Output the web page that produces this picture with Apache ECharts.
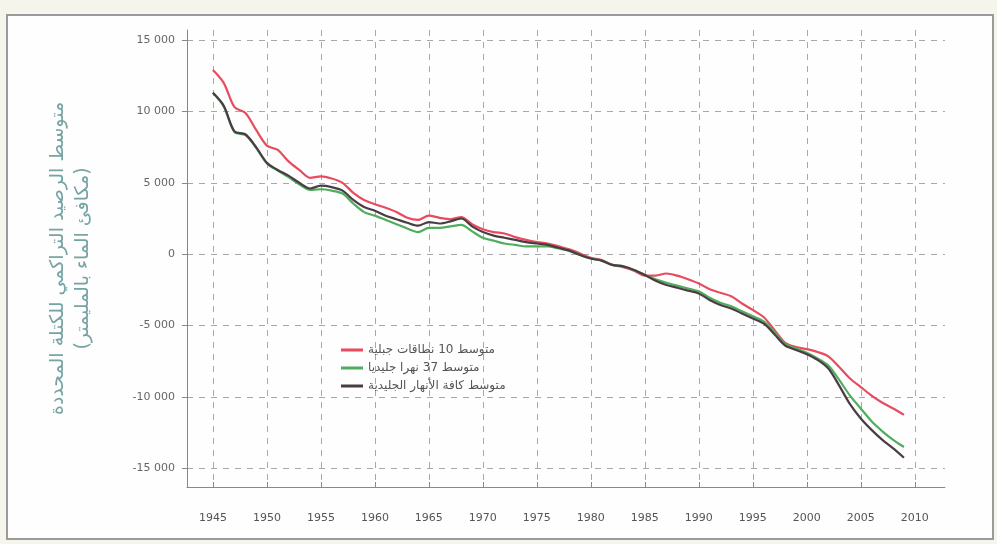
<!DOCTYPE html>
<html>
<head>
<meta charset="utf-8">
<script src="https://cdn.jsdelivr.net/npm/echarts@6/dist/echarts.min.js"></script>
<style>
  html, body { margin: 0; padding: 0; background: #f6f5ec; }
  #chart { width: 997px; height: 544px; }
</style>
</head>
<body>
<div id="chart"></div>
<script>
const years = [];
for (let y = 1945; y <= 2009; y++) years.push(y);

// متوسط 10 نطاقات جبلية
const mountainRanges = [
  12900, 12000, 10300, 9900, 8700, 7600, 7300, 6500, 5900, 5350,
  5450, 5300, 5000, 4300, 3800, 3500, 3250, 2950, 2550, 2400,
  2700, 2550, 2450, 2600, 2100, 1750, 1550, 1450, 1200, 1000,
  850, 750, 550, 350, 50, -250, -400, -750, -900, -1150,
  -1500, -1500, -1350, -1500, -1750, -2050, -2450, -2700, -2950, -3450,
  -3900, -4400, -5300, -6200, -6500, -6650, -6850, -7150, -7900, -8700,
  -9300, -9900, -10400, -10800, -11250
];
// متوسط 37 نهرا جليديا
const glaciers37 = [
  11300, 10350, 8550, 8350, 7450, 6350, 5850, 5400, 4900, 4500,
  4550, 4450, 4250, 3550, 2950, 2700, 2400, 2100, 1800, 1550,
  1850, 1850, 1950, 2050, 1600, 1150, 950, 750, 650, 550,
  550, 550, 400, 250, -50, -300, -450, -750, -850, -1100,
  -1450, -1750, -2000, -2200, -2400, -2600, -3050, -3400, -3650, -4000,
  -4350, -4700, -5450, -6300, -6600, -6900, -7300, -7800, -8800, -9900,
  -10800, -11700, -12400, -13000, -13500
];
// متوسط كافة الأنهار الجليدية
const allGlaciers = [
  11300, 10400, 8600, 8400, 7500, 6400, 5900, 5500, 5000, 4600,
  4800, 4700, 4450, 3800, 3300, 3050, 2700, 2450, 2200, 2000,
  2250, 2150, 2300, 2500, 1950, 1550, 1300, 1150, 1000, 850,
  750, 650, 450, 250, -50, -300, -450, -750, -850, -1100,
  -1450, -1850, -2150, -2350, -2550, -2750, -3200, -3550, -3800, -4150,
  -4500, -4850, -5600, -6400, -6700, -7000, -7400, -8000, -9200, -10500,
  -11500, -12300, -13000, -13600, -14250
];

const seriesNames = ['متوسط 10 نطاقات جبلية', 'متوسط 37 نهرا جليديا', 'متوسط كافة الأنهار الجليدية'];
const seriesColors = ['#e94b5e', '#4fae5c', '#4a3c44'];
const xTicks = [1945, 1950, 1955, 1960, 1965, 1970, 1975, 1980, 1985, 1990, 1995, 2000, 2005, 2010];
const yTicks = [-15000, -10000, -5000, 0, 5000, 10000, 15000];

const font = 'DejaVu Sans';
const gridLine = { show: true, lineStyle: { color: '#a8a8a8', type: [6, 6], width: 1 } };

function fmt(v) {
  if (v === 0) return '0';
  const a = Math.abs(v);
  return (v < 0 ? '-' : '') + Math.floor(a / 1000) + ' ' + String(a % 1000).padStart(3, '0');
}

const pair = (arr) => arr.map((v, i) => [years[i], v]);
const allData = [mountainRanges, glaciers37, allGlaciers];

const chart = echarts.init(document.getElementById('chart'));
chart.setOption({
  animation: false,
  backgroundColor: '#f6f5ec',
  textStyle: { fontFamily: font },
  graphic: [{
    type: 'rect',
    z: -10,
    shape: { x: 7, y: 15, width: 986, height: 524 },
    style: { fill: '#fefefe', stroke: '#9a9a9a', lineWidth: 2 }
  }],
  grid: { left: 187, right: 52, top: 30, bottom: 57 },
  legend: {
    orient: 'vertical',
    left: 336,
    top: 339,
    itemWidth: 22,
    itemHeight: 3,
    itemGap: 6,
    icon: 'rect',
    textStyle: { fontFamily: font, fontSize: 12, color: '#555' },
    data: seriesNames
  },
  xAxis: {
    type: 'value',
    min: 1942.6,
    max: 2012.8,
    axisLine: { show: true, onZero: false, lineStyle: { color: '#888' } },
    axisTick: { show: true, inside: true, length: 5, customValues: xTicks, lineStyle: { color: '#888' } },
    axisLabel: { customValues: xTicks, color: '#555', fontSize: 11, margin: 26, formatter: (v) => String(v) },
    splitLine: gridLine
  },
  yAxis: {
    type: 'value',
    min: -16300,
    max: 15700,
    name: 'متوسط الرصيد التراكمي للكتلة المحددة\n(مكافئ الماء بالمليمتر)',
    nameLocation: 'middle',
    nameGap: 91,
    nameRotate: 90,
    nameTextStyle: { color: '#76a3a3', fontSize: 19, lineHeight: 25, fontFamily: font },
    axisLine: { show: true, lineStyle: { color: '#888' } },
    axisTick: { show: true, length: 5, customValues: yTicks, lineStyle: { color: '#888' } },
    axisLabel: { customValues: yTicks, color: '#666', fontSize: 11, margin: 12, formatter: fmt },
    splitLine: gridLine
  },
  series: seriesNames.map((name, i) => ({
    name,
    type: 'line',
    data: pair(allData[i]),
    showSymbol: false,
    smooth: 0.3,
    lineStyle: { color: seriesColors[i], width: 2.2 },
    itemStyle: { color: seriesColors[i] },
    z: 2 + i
  }))
});
</script>
</body>
</html>
